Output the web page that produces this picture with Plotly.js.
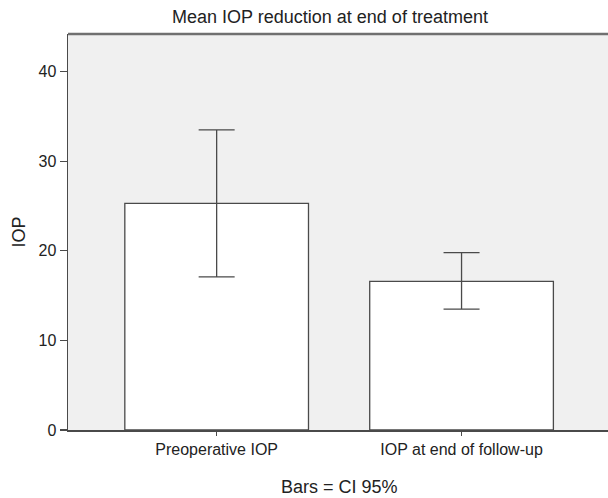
<!DOCTYPE html>
<html>
<head>
<meta charset="utf-8">
<script src="https://cdn.plot.ly/plotly-3.0.1.min.js"></script>
<style>
  html, body { margin: 0; padding: 0; background: #ffffff; overflow: hidden; }
  #chart { width: 608px; height: 498px; }
</style>
</head>
<body>
<div id="chart"></div>
<script>
// Data
const categories = ["Preoperative IOP", "IOP at end of follow-up"];
const meanIOP = [25.3, 16.6];
const ciUpper = [33.5, 19.8];
const ciLower = [17.1, 13.5];
const yTicks = [0, 10, 20, 30, 40];

const errPlus = meanIOP.map((m, i) => ciUpper[i] - m);
const errMinus = meanIOP.map((m, i) => m - ciLower[i]);

const lineCol = "#4a4a4a";
const textCol = "#222222";
const fontFam = "Liberation Sans, Arial, Helvetica, sans-serif";

const trace = {
  type: "bar",
  x: [0, 1],
  y: meanIOP,
  width: 0.75,
  marker: { color: "#ffffff", line: { color: lineCol, width: 1.3 } },
  error_y: {
    type: "data",
    symmetric: false,
    array: errPlus,
    arrayminus: errMinus,
    color: lineCol,
    thickness: 1.3,
    width: 18
  },
  hoverinfo: "skip",
  showlegend: false
};

const layout = {
  width: 608,
  height: 498,
  margin: { l: 68, r: 0, t: 34, b: 68 },
  paper_bgcolor: "#ffffff",
  plot_bgcolor: "#f0f0f0",
  font: { family: fontFam, color: textCol, size: 16 },
  title: {
    text: "Mean IOP reduction at end of treatment",
    font: { family: fontFam, size: 18, color: textCol },
    x: 330 / 608,
    xanchor: "center",
    xref: "container",
    y: 1 - 17 / 498,
    yanchor: "middle",
    yref: "container"
  },
  xaxis: {
    range: [-0.607, 1.598],
    tickmode: "array",
    tickvals: [0, 1],
    ticktext: categories,
    ticks: "outside",
    ticklen: 4,
    tickwidth: 1.3,
    tickcolor: lineCol,
    showline: true,
    linecolor: lineCol,
    linewidth: 1.5,
    showgrid: false,
    zeroline: false,
    tickfont: { family: fontFam, size: 16, color: textCol },
    fixedrange: true
  },
  yaxis: {
    range: [0, 44.2],
    tickmode: "array",
    tickvals: yTicks,
    ticktext: yTicks.map(String),
    ticks: "outside",
    ticklen: 7,
    tickwidth: 1.3,
    tickcolor: lineCol,
    showline: true,
    linecolor: lineCol,
    linewidth: 1.5,
    showgrid: false,
    zeroline: false,
    tickfont: { family: fontFam, size: 16, color: textCol },
    title: { text: "IOP", font: { family: fontFam, size: 18, color: textCol }, standoff: 8 },
    fixedrange: true
  },
  shapes: [
    { type: "line", xref: "paper", yref: "paper", x0: 0, x1: 1, y0: 1, y1: 1,
      line: { color: "#707070", width: 2.5 } }
  ],
  annotations: [
    { text: "Bars = CI 95%", xref: "paper", yref: "paper",
      x: (339 - 68) / 540, y: -(487 - 430) / 396,
      xanchor: "center", yanchor: "middle", showarrow: false,
      font: { family: fontFam, size: 18, color: textCol } }
  ]
};

Plotly.newPlot("chart", [trace], layout, { displayModeBar: false, staticPlot: true });
</script>
</body>
</html>
